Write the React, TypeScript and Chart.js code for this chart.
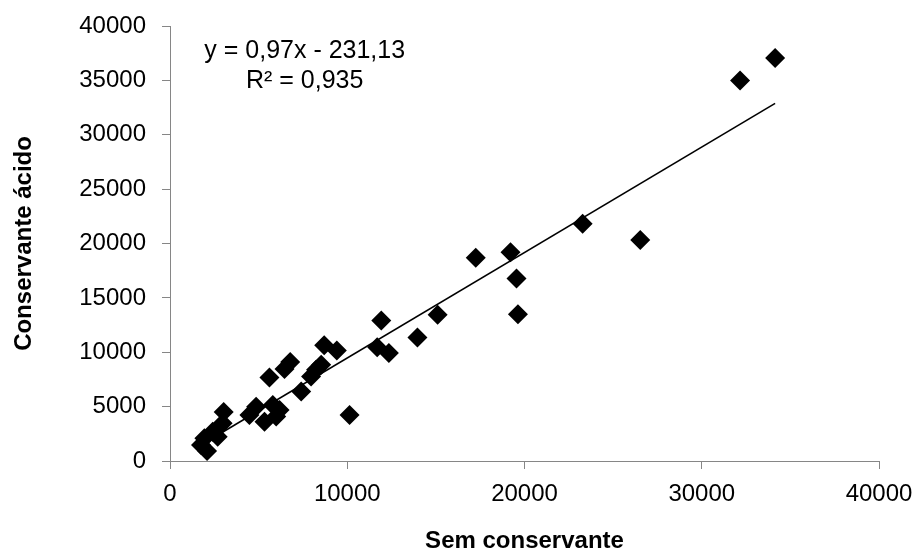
import React, { useEffect, useRef } from 'react';
import { Chart, registerables } from 'chart.js';

Chart.register(...registerables);

// Sample values
const semConservante = [
  1750, 2090, 1940, 2410, 2690, 2970, 3030, 4480, 4860, 5330, 5800, 6180,
  5990, 5610, 6460, 6780, 7400, 7960, 8240, 8530, 8700, 9410, 10130, 11690,
  11920, 12350, 13960, 15100, 17250, 19210, 19550, 19630, 23280, 26530,
  32160, 34140,
];
const conservanteAcido = [
  1470, 920, 2090, 2700, 2240, 3470, 4500, 4240, 5000, 3620, 5160, 4700,
  4090, 7680, 8450, 9100, 6380, 7770, 8390, 8850, 10650, 10170, 4240, 10450,
  12910, 9930, 11360, 13450, 18690, 19190, 16790, 13500, 21820, 20330,
  35000, 37050,
];

// Linear trendline (from the reference label)
const trendSlope = 0.97;
const trendIntercept = -231.13;
const equationLines = ['y = 0,97x - 231,13', 'R² = 0,935'];

const axisMin = 0;
const axisMax = 40000;
const xStep = 10000;
const yStep = 5000;
const xTitle = 'Sem conservante';
const yTitle = 'Conservante ácido';

const FONT = "'Liberation Sans', Arial, Helvetica, sans-serif";
const AXIS_GRAY = '#868686';

const equationPlugin = {
  id: 'equationLabel',
  afterDatasetsDraw(chart: any) {
    const { ctx, chartArea } = chart;
    ctx.save();
    ctx.font = `25px ${FONT}`;
    ctx.fillStyle = '#000';
    ctx.textAlign = 'center';
    ctx.textBaseline = 'alphabetic';
    const cx = chartArea.left + (chartArea.right - chartArea.left) * 0.19;
    equationLines.forEach((line, i) => {
      ctx.fillText(line, cx, chartArea.top + 32 + i * 30);
    });
    ctx.restore();
  },
};

export default function App() {
  const canvasRef = useRef<HTMLCanvasElement | null>(null);

  useEffect(() => {
    if (!canvasRef.current) return;
    const points = semConservante.map((x, i) => ({ x, y: conservanteAcido[i] }));
    const minX = Math.min(...semConservante);
    const maxX = Math.max(...semConservante);
    const trend = [minX, maxX].map((x) => ({ x, y: trendSlope * x + trendIntercept }));

    const chart = new Chart(canvasRef.current, {
      type: 'scatter',
      data: {
        datasets: [
          {
            type: 'line',
            label: 'Linear',
            data: trend,
            borderColor: '#000',
            borderWidth: 1.6,
            pointRadius: 0,
            fill: false,
            order: 0,
          } as any,
          {
            label: 'Dados',
            data: points,
            pointStyle: 'rectRot',
            pointRadius: 10,
            pointBackgroundColor: '#000',
            pointBorderWidth: 0,
            backgroundColor: '#000',
            borderColor: '#000',
            clip: false,
            order: 1,
          } as any,
        ],
      },
      options: {
        animation: false,
        responsive: false,
        devicePixelRatio: 1,
        events: [],
        layout: { autoPadding: false, padding: { top: 26, right: 41, left: 0, bottom: 0 } },
        plugins: {
          legend: { display: false },
          tooltip: { enabled: false },
        },
        scales: {
          x: {
            type: 'linear',
            min: axisMin,
            max: axisMax,
            ticks: {
              stepSize: xStep,
              color: '#000',
              font: { family: FONT, size: 24 },
              padding: 11,
              maxRotation: 0,
              callback: (v: any) => String(v),
            },
            grid: {
              drawOnChartArea: false,
              drawTicks: true,
              tickLength: 8,
              color: AXIS_GRAY,
              lineWidth: 1,
            },
            border: { color: AXIS_GRAY, width: 1 },
            title: {
              display: true,
              text: xTitle,
              color: '#000',
              font: { family: FONT, size: 24, weight: 'bold', lineHeight: 0.9 },
              padding: { top: 0, bottom: 0 },
            },
            afterFit: (scale: any) => {
              scale.height = 91;
              scale.paddingLeft = 0;
              scale.paddingRight = 0;
            },
          },
          y: {
            type: 'linear',
            min: axisMin,
            max: axisMax,
            ticks: {
              stepSize: yStep,
              color: '#000',
              font: { family: FONT, size: 24 },
              padding: 16,
              callback: (v: any) => String(v),
            },
            grid: {
              drawOnChartArea: false,
              drawTicks: true,
              tickLength: 8,
              color: AXIS_GRAY,
              lineWidth: 1,
            },
            border: { color: AXIS_GRAY, width: 1 },
            title: {
              display: true,
              text: yTitle,
              color: '#000',
              font: { family: FONT, size: 24, weight: 'bold' },
              padding: { top: 10, bottom: 0 },
            },
            afterFit: (scale: any) => {
              scale.width = 170;
              scale.paddingTop = 0;
              scale.paddingBottom = 0;
            },
          },
        },
      } as any,
      plugins: [equationPlugin],
    });
    return () => chart.destroy();
  }, []);

  return (
    <div style={{ position: 'fixed', left: 0, top: 0, width: 920, height: 552, background: '#fff' }}>
      <canvas ref={canvasRef} width={920} height={552} style={{ width: 920, height: 552, display: 'block' }} />
    </div>
  );
}
